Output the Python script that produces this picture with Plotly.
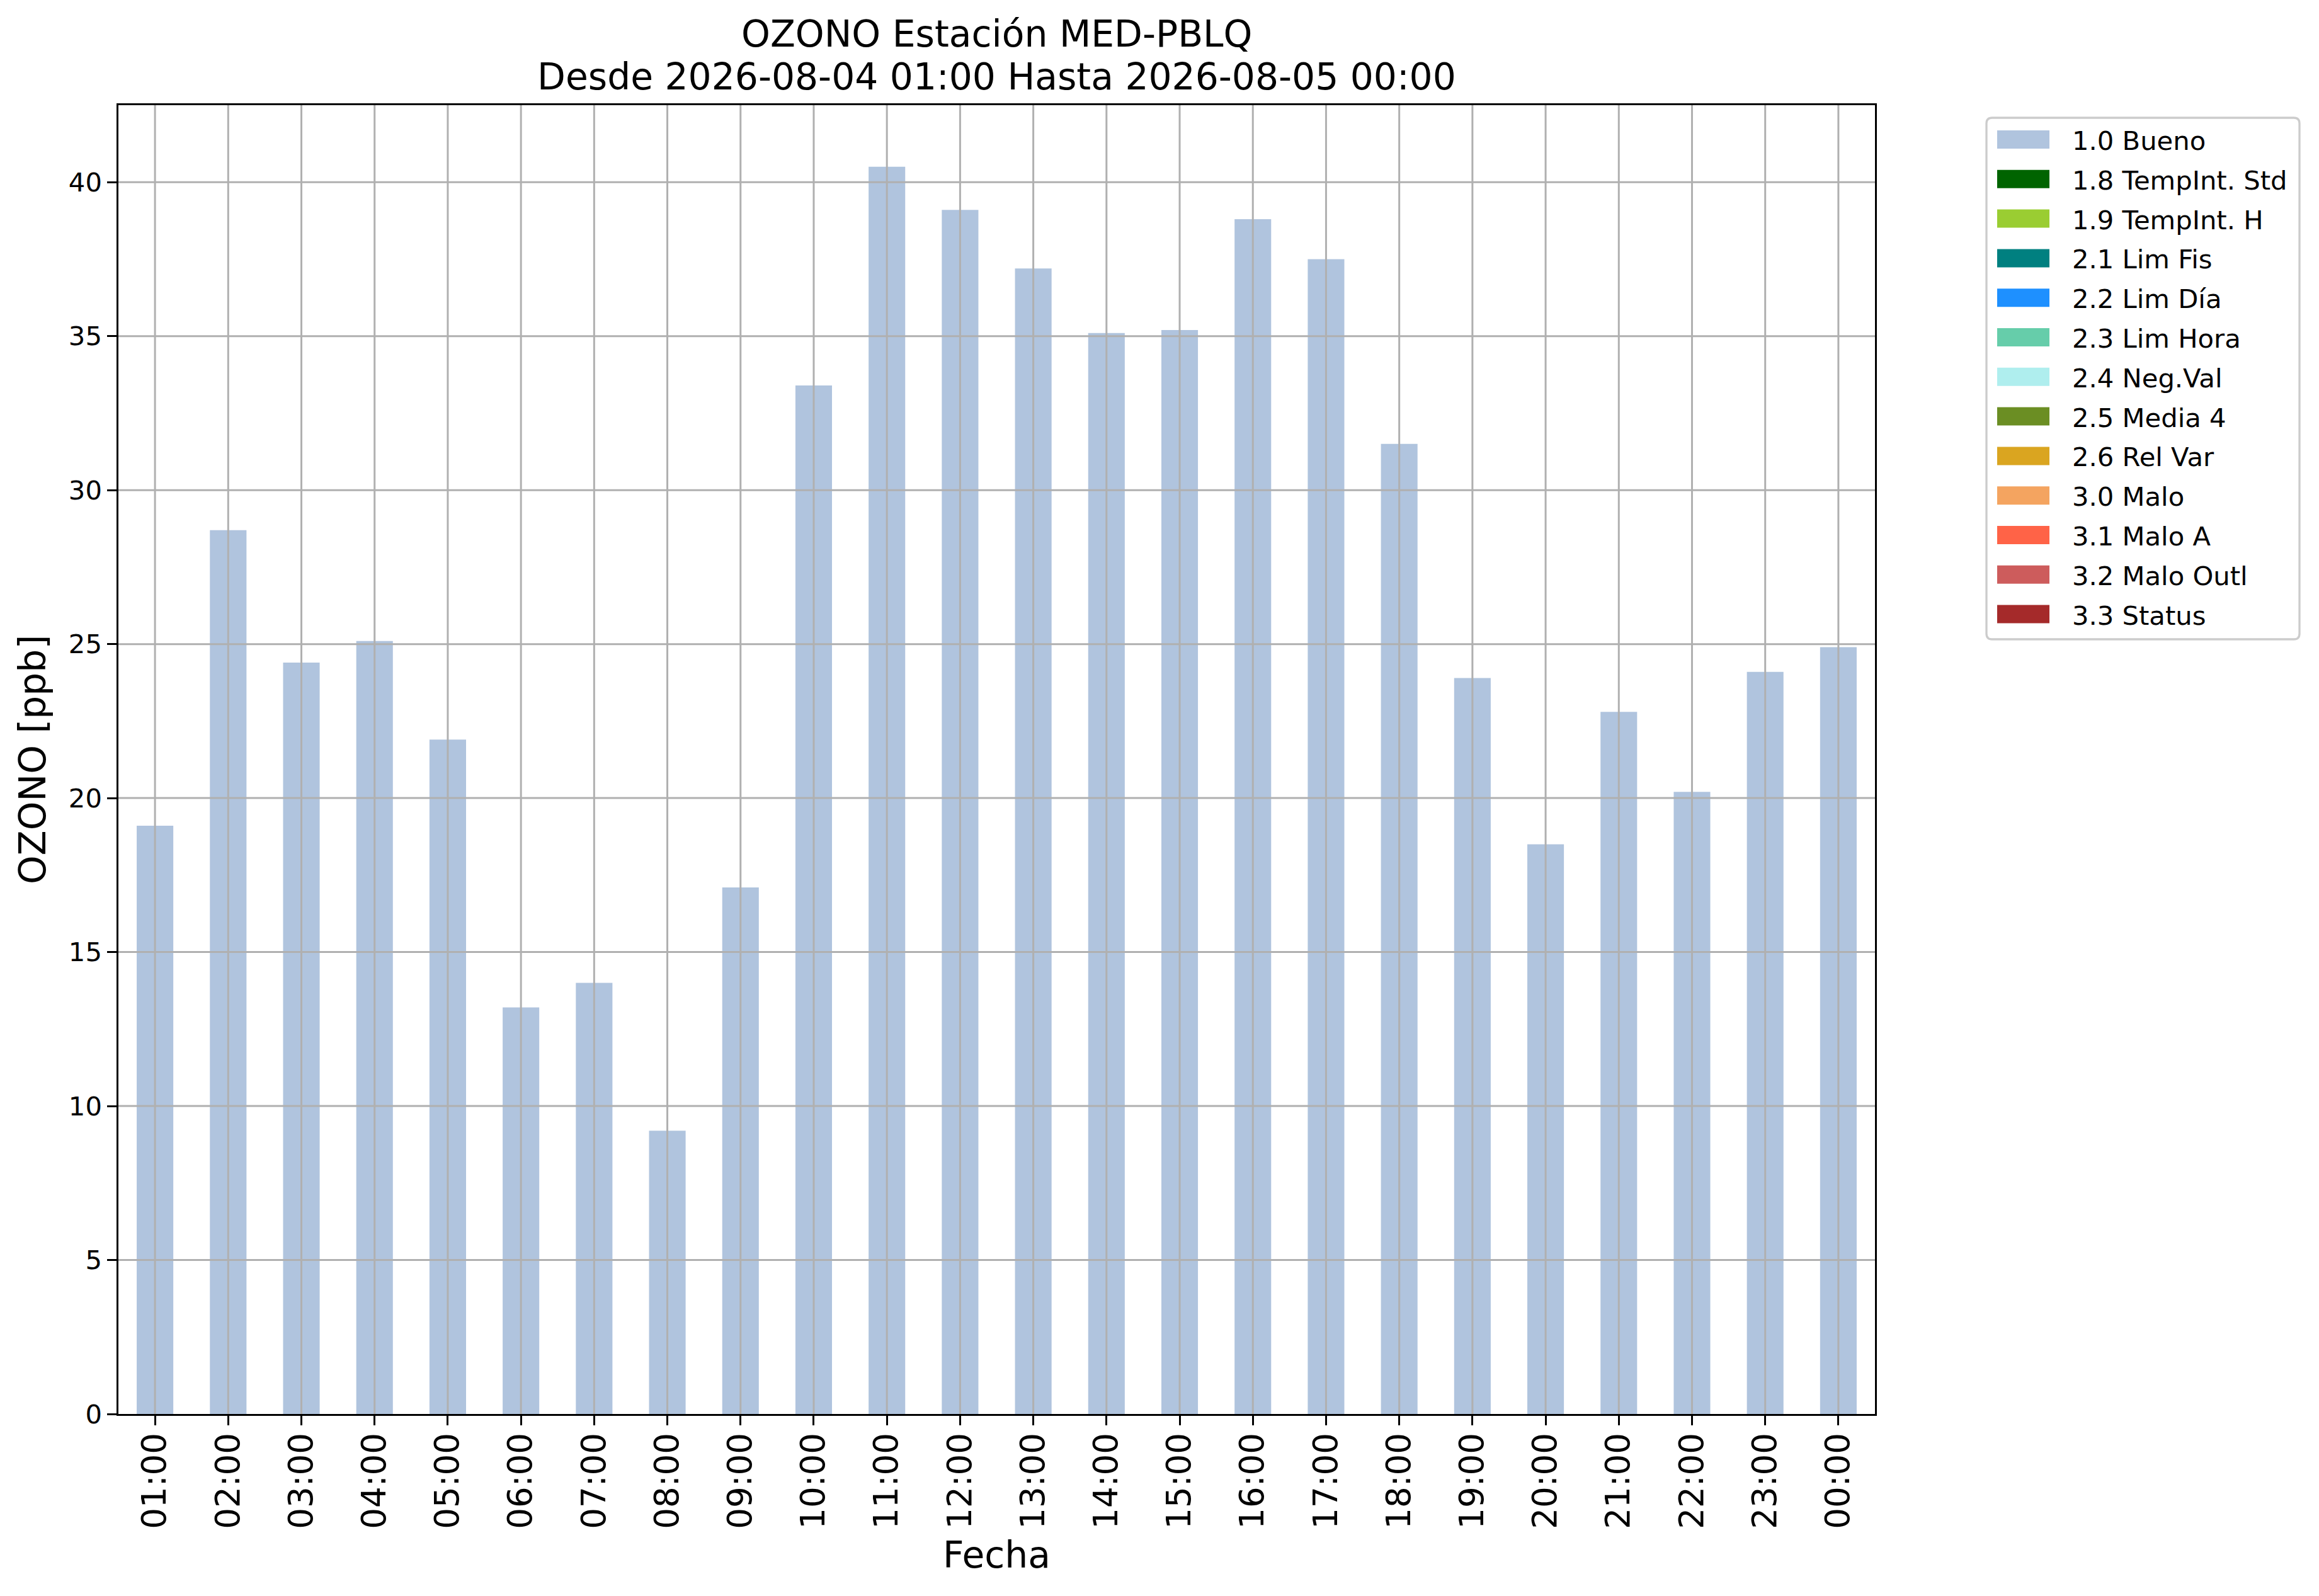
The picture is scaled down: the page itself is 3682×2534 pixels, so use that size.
import plotly.graph_objects as go

# ozone hourly values, station MED-PBLQ
horas = ["01:00", "02:00", "03:00", "04:00", "05:00", "06:00", "07:00", "08:00",
         "09:00", "10:00", "11:00", "12:00", "13:00", "14:00", "15:00", "16:00",
         "17:00", "18:00", "19:00", "20:00", "21:00", "22:00", "23:00", "00:00"]
ozono = [19.1, 28.7, 24.4, 25.1, 21.9, 13.2, 14.0, 9.2, 17.1, 33.4, 40.5, 39.1,
         37.2, 35.1, 35.2, 38.8, 37.5, 31.5, 23.9, 18.5, 22.8, 20.2, 24.1, 24.9]

flag_labels = ["1.0 Bueno", "1.8 TempInt. Std", "1.9 TempInt. H", "2.1 Lim Fis",
               "2.2 Lim Día", "2.3 Lim Hora", "2.4 Neg.Val", "2.5 Media 4",
               "2.6 Rel Var", "3.0 Malo", "3.1 Malo A", "3.2 Malo Outl", "3.3 Status"]
flag_colors = ["#B0C4DE", "#006400", "#9ACD32", "#008080", "#1E90FF", "#66CDAA",
               "#AFEEEE", "#6B8E23", "#DAA520", "#F4A460", "#FF6347", "#CD5C5C",
               "#A52A2A"]

y_ticks = [0, 5, 10, 15, 20, 25, 30, 35, 40]

titulo = "OZONO Estación MED-PBLQ"
subtitulo = "Desde 2026-08-04 01:00 Hasta 2026-08-05 00:00"

W, H = 3682, 2534
L, R, T, B = 188, 2977, 167, 2245   # plot area in px
FONT = "DejaVu Sans"
GRID = "#b0b0b0"


def px_x(px):
    return (px - L) / (R - L)


def px_y(py):
    return (B - py) / (B - T)


fig = go.Figure()
fig.add_trace(go.Bar(x=horas, y=ozono, name=flag_labels[0], width=0.5,
                     marker=dict(color=flag_colors[0], line=dict(width=0)),
                     showlegend=False))

# matplotlib draws the grid on top of the bars
shapes = []
for h in horas:
    shapes.append(dict(type="line", xref="x", yref="y domain", x0=h, x1=h, y0=0, y1=1,
                       line=dict(color=GRID, width=3), layer="above"))
for v in y_ticks[1:]:
    shapes.append(dict(type="line", xref="x domain", yref="y", x0=0, x1=1, y0=v, y1=v,
                       line=dict(color=GRID, width=3), layer="above"))

# legend drawn by hand (wide patches like matplotlib)
bx0, bx1, by0, by1, rad = 3154, 3651, 187, 1015, 9
path = (f"M {px_x(bx0 + rad)},{px_y(by0)} L {px_x(bx1 - rad)},{px_y(by0)} "
        f"Q {px_x(bx1)},{px_y(by0)} {px_x(bx1)},{px_y(by0 + rad)} "
        f"L {px_x(bx1)},{px_y(by1 - rad)} Q {px_x(bx1)},{px_y(by1)} {px_x(bx1 - rad)},{px_y(by1)} "
        f"L {px_x(bx0 + rad)},{px_y(by1)} Q {px_x(bx0)},{px_y(by1)} {px_x(bx0)},{px_y(by1 - rad)} "
        f"L {px_x(bx0)},{px_y(by0 + rad)} Q {px_x(bx0)},{px_y(by0)} {px_x(bx0 + rad)},{px_y(by0)} Z")
shapes.append(dict(type="path", xref="paper", yref="paper", path=path,
                   line=dict(color="#cccccc", width=3.3), fillcolor="white", layer="above"))

annotations = []
row0, step = 221.5, 62.8
for i, (lab, col) in enumerate(zip(flag_labels, flag_colors)):
    yc = row0 + i * step
    shapes.append(dict(type="rect", xref="paper", yref="paper",
                       x0=px_x(3171), x1=px_x(3254), y0=px_y(yc - 14.5), y1=px_y(yc + 14.5),
                       fillcolor=col, line=dict(width=0), layer="above"))
    annotations.append(dict(text=lab, xref="paper", yref="paper", x=px_x(3288), y=px_y(yc + 2),
                            xanchor="left", yanchor="middle", showarrow=False,
                            font=dict(family=FONT, size=41.7, color="black")))

annotations.append(dict(text=titulo, xref="paper", yref="paper", x=0.5, y=px_y(54),
                        xanchor="center", yanchor="middle", showarrow=False,
                        font=dict(family=FONT, size=58.3, color="black")))
annotations.append(dict(text=subtitulo, xref="paper", yref="paper", x=0.5, y=px_y(122),
                        xanchor="center", yanchor="middle", showarrow=False,
                        font=dict(family=FONT, size=58.3, color="black")))

fig.update_layout(
    width=W, height=H,
    margin=dict(l=L, r=W - R, t=T, b=H - B, pad=0),
    paper_bgcolor="white", plot_bgcolor="white",
    font=dict(family=FONT, color="black"),
    shapes=shapes, annotations=annotations,
    bargap=0.5,
)
fig.update_xaxes(
    type="category", range=[-0.5, len(horas) - 0.5],
    showgrid=False, zeroline=False,
    showline=True, mirror=True, linecolor="black", linewidth=3.3,
    ticks="outside", ticklen=14.6, tickwidth=3.3, tickcolor="black",
    tickangle=-90, tickfont=dict(family=FONT, size=53), ticklabelstandoff=-9,
    title=dict(text="Fecha", font=dict(family=FONT, size=58.3), standoff=22),
    automargin=False,
)
fig.update_yaxes(
    range=[0, 42.5], tickvals=y_ticks,
    showgrid=False, zeroline=False,
    showline=True, mirror=True, linecolor="black", linewidth=3.3,
    ticks="outside", ticklen=14.6, tickwidth=3.3, tickcolor="black",
    tickfont=dict(family=FONT, size=41.7),
    title=dict(text="OZONO [ppb]", font=dict(family=FONT, size=58.3), standoff=18),
    automargin=False,
)

fig.write_html("out.html", config={"displayModeBar": False},
               post_script="document.body.style.margin='0';")
